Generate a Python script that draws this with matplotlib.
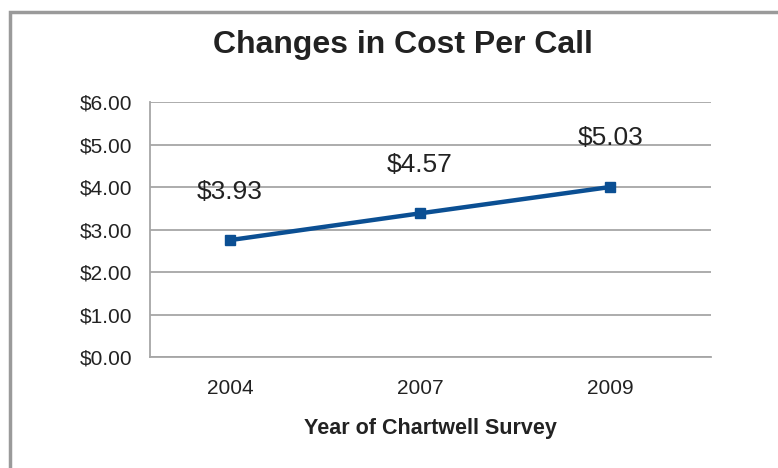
import matplotlib.pyplot as plt
from matplotlib.patches import Rectangle

# 数据
years = ["2004", "2007", "2009"]
cost_line = [2.75, 3.38, 4.00]
cost_labels = ["$3.93", "$4.57", "$5.03"]
y_ticks = [0, 1, 2, 3, 4, 5, 6]

plt.rcParams['font.family'] = ['Liberation Sans', 'DejaVu Sans']

fig = plt.figure(figsize=(7.78, 4.68), dpi=100)
ax = fig.add_axes([150 / 778, 111 / 468, 561 / 778, 255 / 468])

# 外框
fig.patches.append(Rectangle((10 / 778, -0.1), 1.2, 1 - 12 / 468 + 0.1,
                             transform=fig.transFigure, fill=False,
                             edgecolor='#9a9a9a', linewidth=2.5))

x = list(range(len(years)))
ax.plot(x, cost_line, color='#0b4f93', linewidth=3.2, marker='s',
        markersize=7, zorder=3)

for xi, yi, lab in zip(x, cost_line, cost_labels):
    ax.annotate(lab, (xi, yi), xytext=(0, 35), textcoords='offset points',
                ha='center', va='center', fontsize=19, color='#222222')

ax.set_xlim(-0.42, 2.53)
ax.set_ylim(0, 6)
ax.set_yticks(y_ticks)
ax.set_yticklabels([f"${v:.2f}" for v in y_ticks])
ax.set_xticks(x)
ax.set_xticklabels(years)
ax.tick_params(axis='y', length=0, pad=13, labelsize=15, labelcolor='#222222')
ax.tick_params(axis='x', length=0, pad=16, labelsize=15, labelcolor='#222222')

ax.grid(True, axis='y', color='#a6a6a6', linewidth=1.3)
ax.set_axisbelow(True)
for s in ['top', 'right']:
    ax.spines[s].set_visible(False)
ax.spines['left'].set_color('#a6a6a6')
ax.spines['bottom'].set_color('#a6a6a6')
ax.spines['left'].set_linewidth(1.3)
ax.spines['bottom'].set_linewidth(1.3)

ax.set_xlabel("Year of Chartwell Survey", fontsize=15.5, fontweight='bold',
              color='#222222', labelpad=14)
fig.text(403 / 778, 1 - 45 / 468, "Changes in Cost Per Call", ha='center',
         va='center', fontsize=23, fontweight='bold', color='#222222')

plt.savefig('out.png', dpi=100)
